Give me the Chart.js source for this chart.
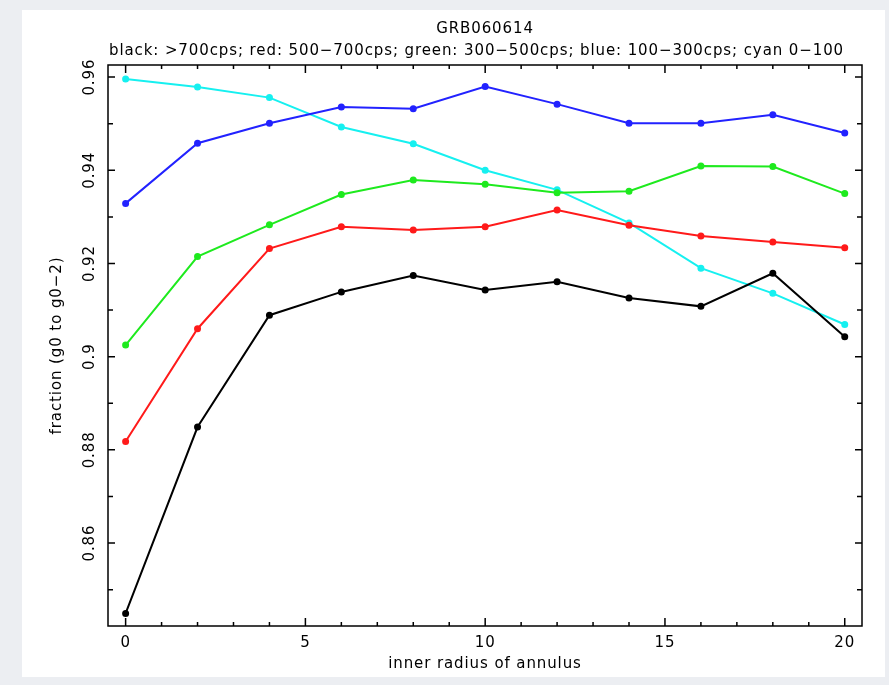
<!DOCTYPE html>
<html>
<head>
<meta charset="utf-8">
<script src="https://cdn.jsdelivr.net/npm/chart.js@4"></script>
<style>
  body { margin: 0; background: #eceef2; }
  #panel { position: absolute; left: 22px; top: 10px; width: 863px; height: 667px; background: #fff; }
  #GrbChart { position: absolute; left: 0; top: 0; }
</style>
</head>
<body>
<div id="panel"></div>
<canvas id="GrbChart" width="889" height="685"></canvas>
<script>
var xValues = [0, 2, 4, 6, 8, 10, 12, 14, 16, 18, 20];

var blackValues = [0.8449, 0.8849, 0.9089, 0.9139, 0.9174, 0.9143, 0.9161, 0.9126, 0.9108, 0.9179, 0.9043];
var redValues   = [0.8818, 0.9060, 0.9232, 0.9279, 0.9272, 0.9279, 0.9315, 0.9282, 0.9259, 0.9246, 0.9234];
var greenValues = [0.9025, 0.9215, 0.9283, 0.9348, 0.9379, 0.9370, 0.9352, 0.9355, 0.9409, 0.9408, 0.9350];
var blueValues  = [0.9329, 0.9458, 0.9501, 0.9536, 0.9532, 0.9580, 0.9542, 0.9501, 0.9501, 0.9519, 0.9480];
var cyanValues  = [0.9596, 0.9579, 0.9556, 0.9493, 0.9457, 0.9400, 0.9358, 0.9287, 0.9190, 0.9136, 0.9069];

var xTickValues = [0, 5, 10, 15, 20];
var yTickValues = [0.86, 0.88, 0.90, 0.92, 0.94, 0.96];
var yTickLabels = ["0.86", "0.88", "0.9", "0.92", "0.94", "0.96"];

var FONT = "'DejaVu Sans', sans-serif";
var SUBTITLE = "black: >700cps; red: 500\u2212700cps; green: 300\u2212500cps; blue: 100\u2212300cps; cyan 0\u2212100";

function points(arr) {
  return xValues.map(function (x, i) { return {x: x, y: arr[i]}; });
}

function series(label, arr, color) {
  return {
    label: label,
    data: points(arr),
    borderColor: color,
    backgroundColor: color,
    borderWidth: 2,
    pointRadius: 2.5,
    pointHoverRadius: 2.5,
    showLine: true,
    fill: false
  };
}

// the old plot uses wide lettering
var spacingPlugin = {
  id: "spacing",
  beforeLayout: function (chart) { chart.ctx.letterSpacing = "0.9px"; },
  beforeDraw: function (chart) { chart.ctx.letterSpacing = "0.9px"; },
  afterLayout: function (chart) {
    // centre the title over the plot box, subtitle a bit to the left
    chart.boxes.forEach(function (b) {
      if (!b.options || b.options.text === undefined) return;
      if (b.options.text === SUBTITLE) { b.left = 91; b.right = 862; }
      else { b.left = 108; b.right = 862; }
    });
  }
};

// PGPLOT style frame: box, inward ticks on all sides, rotated y labels
var framePlugin = {
  id: "frame",
  afterDatasetsDraw: function (chart) {
    var ctx = chart.ctx;
    var a = chart.chartArea;
    var xs = chart.scales.x, ys = chart.scales.y;
    ctx.save();
    ctx.strokeStyle = "#000";
    ctx.lineWidth = 1.5;
    ctx.strokeRect(a.left, a.top, a.right - a.left, a.bottom - a.top);
    ctx.beginPath();
    for (var i = 0; i <= 20; i++) {
      var px = xs.getPixelForValue(i);
      var len = (i % 5 === 0) ? 8 : 4;
      ctx.moveTo(px, a.bottom); ctx.lineTo(px, a.bottom - len);
      ctx.moveTo(px, a.top); ctx.lineTo(px, a.top + len);
    }
    for (var k = 85; k <= 96; k++) {
      var py = ys.getPixelForValue(k / 100);
      var ylen = (k % 2 === 0) ? 7 : 5;
      ctx.moveTo(a.left, py); ctx.lineTo(a.left + ylen, py);
      ctx.moveTo(a.right, py); ctx.lineTo(a.right - ylen, py);
    }
    ctx.stroke();

    ctx.fillStyle = "#000";
    ctx.font = "15px " + FONT;
    ctx.textAlign = "center";
    ctx.textBaseline = "middle";
    yTickValues.forEach(function (v, j) {
      var py = ys.getPixelForValue(v);
      ctx.save();
      ctx.translate(90, py);
      ctx.rotate(-Math.PI / 2);
      ctx.fillText(yTickLabels[j], 0, 0);
      ctx.restore();
    });
    ctx.restore();
  }
};

new Chart("GrbChart", {
  type: "scatter",
  data: {
    datasets: [
      series("black", blackValues, "#000000"),
      series("red", redValues, "#ff1a1a"),
      series("green", greenValues, "#1eea1e"),
      series("blue", blueValues, "#2222ff"),
      series("cyan", cyanValues, "#16f0f0")
    ]
  },
  options: {
    responsive: false,
    animation: false,
    layout: {padding: {left: 0, right: 27, top: 0, bottom: 0}},
    plugins: {
      legend: {display: false},
      tooltip: {enabled: false},
      title: {
        display: true,
        text: "GRB060614",
        color: "#000",
        font: {family: FONT, size: 15, weight: "normal"},
        padding: {top: 20, bottom: 2}
      },
      subtitle: {
        display: true,
        text: SUBTITLE,
        color: "#000",
        font: {family: FONT, size: 15},
        padding: {top: 2, bottom: 5}
      }
    },
    scales: {
      x: {
        type: "linear",
        min: -0.49,
        max: 20.48,
        grid: {display: false, drawTicks: false},
        border: {display: false},
        afterBuildTicks: function (scale) {
          scale.ticks = xTickValues.map(function (v) { return {value: v}; });
        },
        afterFit: function (scale) { scale.height = 59; },
        ticks: {
          color: "#000",
          padding: 8,
          font: {family: FONT, size: 15},
          maxRotation: 0,
          callback: function (v) { return String(v); }
        },
        title: {
          display: true,
          text: "inner radius of annulus",
          color: "#000",
          font: {family: FONT, size: 15},
          padding: {top: 0, bottom: 12}
        }
      },
      y: {
        type: "linear",
        min: 0.8422,
        max: 0.9626,
        grid: {display: false, drawTicks: false},
        border: {display: false},
        ticks: {display: false},
        afterFit: function (scale) { scale.width = 108; },
        title: {
          display: true,
          text: "fraction (g0 to g0\u22122)",
          color: "#000",
          font: {family: FONT, size: 15},
          padding: {top: 48, bottom: 0}
        }
      }
    }
  },
  plugins: [spacingPlugin, framePlugin]
});
</script>
</body>
</html>
